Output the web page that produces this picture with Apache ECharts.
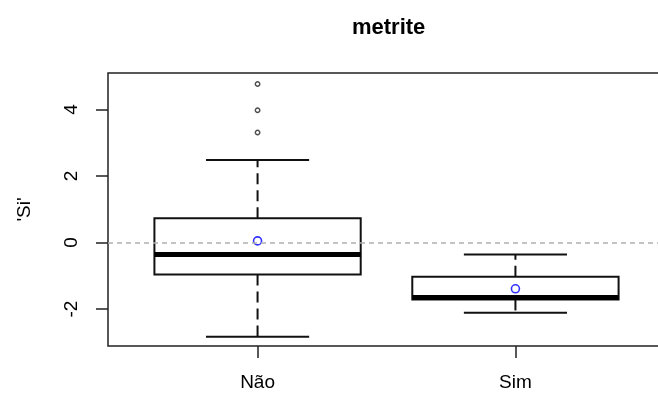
<!DOCTYPE html>
<html><head><meta charset="utf-8">
<script src="https://cdn.jsdelivr.net/npm/echarts@6/dist/echarts.min.js"></script>
<style>html,body{margin:0;padding:0;background:#fff}#c{width:658px;height:396px}</style>
</head><body><div id="c"></div>
<script>
var categories = ['Não', 'Sim'];
var positions = [1, 2];
var whiskerLow = [-2.83, -2.11];
var q1 = [-0.96, -1.71];
var median = [-0.36, -1.65];
var q3 = [0.73, -1.03];
var whiskerHigh = [2.48, -0.36];
var means = [0.05, -1.39];
var outlierGroup = [1, 1, 1];
var outlierValues = [3.31, 3.98, 4.77];
var yTicks = [-2, 0, 2, 4];

var FONT = '"Liberation Sans", Arial, sans-serif';
var boxData = positions.map(function (p, i) {
  return [p, whiskerLow[i], q1[i], median[i], q3[i], whiskerHigh[i]];
});
var meanData = positions.map(function (p, i) { return [p, means[i]]; });
var outData = outlierValues.map(function (v, i) { return [outlierGroup[i], v]; });

var chart = echarts.init(document.getElementById('c'), null, { renderer: 'canvas' });
chart.setOption({
  animation: false,
  backgroundColor: '#fff',
  title: {
    text: 'metrite', left: 347, top: 12,
    textStyle: { fontFamily: FONT, fontSize: 22, fontWeight: 'bold', color: '#000' }
  },
  grid: { left: 108, top: 73, width: 557, bottom: 50, outerBoundsMode: 'none', containLabel: false,
          show: true, borderColor: '#222', borderWidth: 1.5, backgroundColor: 'transparent' },
  xAxis: {
    type: 'value', min: 0.42, max: 2.58,
    splitLine: { show: false },
    axisLine: { show: false, onZero: false },
    axisTick: { show: true, customValues: positions, length: 12, lineStyle: { color: '#222', width: 1.5 } },
    axisLabel: {
      customValues: positions, margin: 27,
      formatter: function (v) { return categories[Math.round(v) - 1] || ''; },
      fontFamily: FONT, fontSize: 19, color: '#000'
    }
  },
  yAxis: {
    type: 'value', min: -3.11, max: 5.1,
    name: "'Si'", nameLocation: 'middle', nameRotate: 90, nameGap: 74,
    nameTextStyle: { fontFamily: FONT, fontSize: 19, color: '#000' },
    splitLine: { show: false },
    axisLine: { show: false, onZero: false },
    axisTick: { show: true, customValues: yTicks, length: 12, lineStyle: { color: '#222', width: 1.5 } },
    axisLabel: { customValues: yTicks, rotate: 90, margin: 27, fontFamily: FONT, fontSize: 19, color: '#000' }
  },
  series: [
    {
      type: 'custom',
      data: boxData,
      clip: false,
      renderItem: function (params, api) {
        var x = api.value(0), lo = api.value(1), b1 = api.value(2), md = api.value(3), b3 = api.value(4), hi = api.value(5);
        var hw = 0.4, cw = 0.2;
        var tl = api.coord([x - hw, b3]);
        var br = api.coord([x + hw, b1]);
        var c = function (a, b) { return api.coord([a, b]); };
        var ln = function (p1, p2, style) {
          return { type: 'line', shape: { x1: p1[0], y1: p1[1], x2: p2[0], y2: p2[1] }, style: style };
        };
        var solid = { stroke: '#111', lineWidth: 2 };
        var dashed = { stroke: '#111', lineWidth: 2, lineDash: [11, 6] };
        return {
          type: 'group',
          children: [
            ln(c(x, b3), c(x, hi), dashed),
            ln(c(x, b1), c(x, lo), dashed),
            ln(c(x - cw, hi), c(x + cw, hi), solid),
            ln(c(x - cw, lo), c(x + cw, lo), solid),
            { type: 'rect', shape: { x: tl[0], y: tl[1], width: br[0] - tl[0], height: br[1] - tl[1] },
              style: { fill: 'none', stroke: '#111', lineWidth: 2 } },
            ln(c(x - hw, md), c(x + hw, md), { stroke: '#000', lineWidth: 5 })
          ]
        };
      },
      markLine: {
        silent: true, symbol: 'none', label: { show: false },
        lineStyle: { color: '#b0b0b0', type: [5, 4], width: 1.5 },
        data: [{ yAxis: 0 }]
      },
      z: 2
    },
    {
      type: 'scatter', data: meanData, symbol: 'circle', symbolSize: 8,
      itemStyle: { color: 'transparent', borderColor: '#0000ff', borderWidth: 1.6 }, z: 3
    },
    {
      type: 'scatter', data: outData, symbol: 'circle', symbolSize: 4.5,
      itemStyle: { color: '#fff', borderColor: '#222', borderWidth: 1.4 }, z: 3
    }
  ]
});
</script></body></html>
